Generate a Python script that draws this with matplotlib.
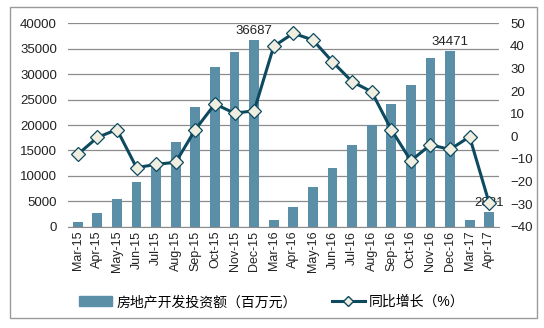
import numpy as np
import matplotlib.pyplot as plt
from matplotlib.patches import Rectangle
from matplotlib.lines import Line2D

plt.rcParams['font.family'] = ['Liberation Sans', 'Noto Sans CJK SC', 'DejaVu Sans']

months = ['Mar-15', 'Apr-15', 'May-15', 'Jun-15', 'Jul-15', 'Aug-15', 'Sep-15',
          'Oct-15', 'Nov-15', 'Dec-15', 'Mar-16', 'Apr-16', 'May-16', 'Jun-16',
          'Jul-16', 'Aug-16', 'Sep-16', 'Oct-16', 'Nov-16', 'Dec-16', 'Mar-17', 'Apr-17']
investment = [1000, 2700, 5500, 8800, 11700, 16600, 23600, 31350, 34400, 36687,
              1400, 3800, 7900, 11600, 16000, 20000, 24200, 27900, 33100, 34471,
              1400, 2881]
growth = [-8.0, -0.5, 3.0, -13.9, -12.4, -11.5, 3.0, 14.3, 10.2, 11.3,
          39.8, 45.6, 42.6, 33.0, 24.2, 19.7, 3.0, -10.8, -3.8, -5.8,
          -0.2, -29.6]
labeled = ['Dec-15', 'Dec-16', 'Apr-17']

bar_color = '#5b8fa8'
line_color = '#0d4a60'
marker_face = '#efeee0'

fig = plt.figure(figsize=(5.44, 3.28), dpi=100)
# grey frame around the whole chart
fig.patches.append(Rectangle((10 / 544, 10 / 328), 527 / 544, 311 / 328,
                             transform=fig.transFigure, fill=False,
                             edgecolor='#9a9a9a', linewidth=1.0))

ax = fig.add_axes([68 / 544, 1 - 226.7 / 328, 431 / 544, 203.4 / 328])
x = np.arange(len(months))
ax.bar(x, investment, width=0.5, color=bar_color, zorder=2)
ax.set_xlim(-0.5, len(months) - 0.5)
ax.set_ylim(0, 40000)
ax.set_yticks(np.arange(0, 40001, 5000))
ax.yaxis.grid(True, color='#8c8c8c', linewidth=0.9)
ax.set_axisbelow(True)
ax.set_xticks(x)
ax.set_xticklabels(months, rotation=90)
for s in ['top', 'left', 'right']:
    ax.spines[s].set_visible(False)
ax.spines['bottom'].set_color('#8c8c8c')
ax.tick_params(axis='both', length=0, labelsize=9.5, colors='#222222')
ax.tick_params(axis='x', labelsize=9, pad=3)
ax.tick_params(axis='y', pad=8)

# value labels on selected bars
for m in labeled:
    i = months.index(m)
    ax.text(i, investment[i] + 600, str(investment[i]), ha='center', va='bottom',
            fontsize=9.5, color='#222222', zorder=6)

ax2 = ax.twinx()
ax2.plot(x, growth, color=line_color, linewidth=2.2, marker='D', markersize=7,
         markerfacecolor=marker_face, markeredgecolor=line_color,
         markeredgewidth=0.9, zorder=4)
ax2.set_ylim(-40, 50)
ax2.set_yticks(np.arange(-40, 51, 10))
for s in ax2.spines.values():
    s.set_visible(False)
ax2.tick_params(axis='y', length=0, labelsize=9.5, colors='#222222', pad=8)
ax.patch.set_visible(False)

handles = [Rectangle((0, 0), 1, 1, color=bar_color),
           Line2D([0], [0], color=line_color, linewidth=2.2, marker='D',
                  markersize=5, markerfacecolor=marker_face,
                  markeredgecolor=line_color)]
fig.legend(handles, ['房地产开发投资额（百万元）', '同比增长（%）'],
           loc='center', bbox_to_anchor=(0.5, 1 - 302 / 328), ncol=2,
           frameon=False, fontsize=10, handlelength=2.4, columnspacing=2.5,
           handletextpad=0.3)

fig.savefig('out.png', dpi=100)
